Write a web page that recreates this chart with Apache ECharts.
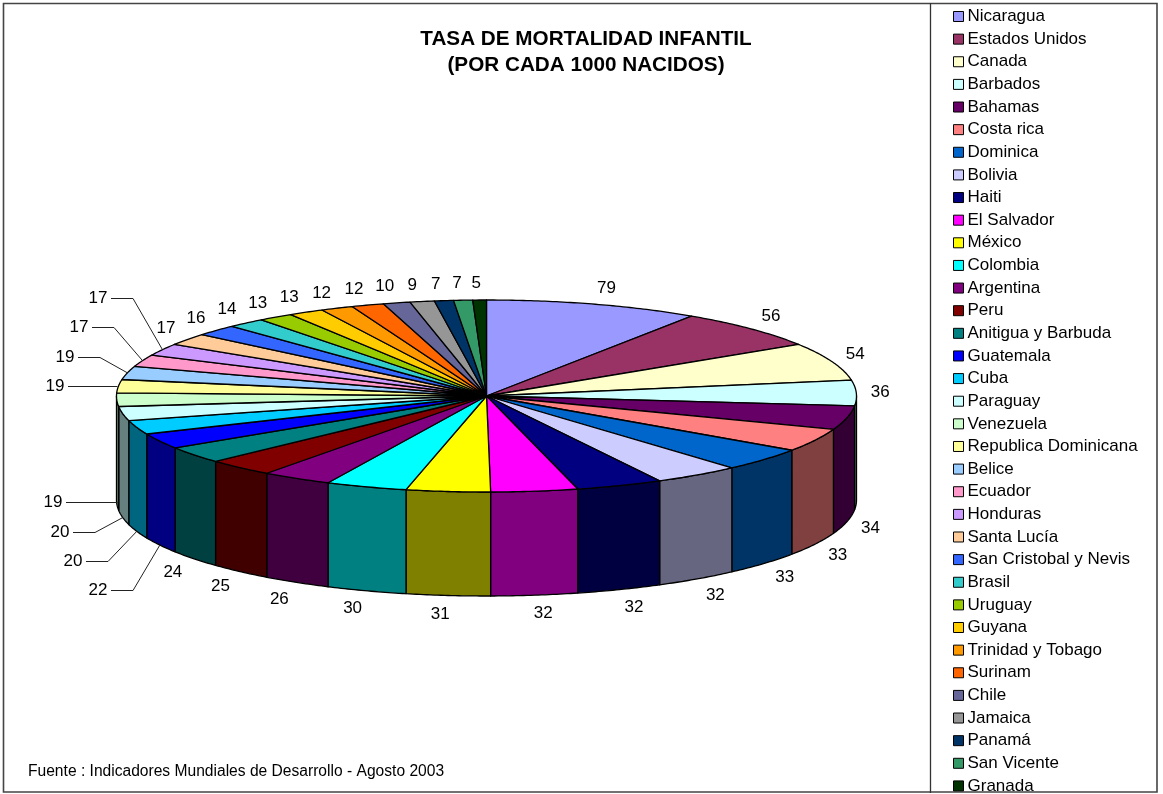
<!DOCTYPE html>
<html>
<head>
<meta charset="utf-8">
<script src="https://cdn.jsdelivr.net/npm/echarts@6/dist/echarts.min.js"></script>
<style>html,body{margin:0;padding:0;background:#fff}#c{width:1163px;height:794px}</style>
</head>
<body>
<div id="c"></div>
<script>
const countries = ["Nicaragua","Estados Unidos","Canada","Barbados","Bahamas","Costa rica","Dominica","Bolivia","Haiti","El Salvador","México","Colombia","Argentina","Peru","Anitigua y Barbuda","Guatemala","Cuba","Paraguay","Venezuela","Republica Dominicana","Belice","Ecuador","Honduras","Santa Lucía","San Cristobal y Nevis","Brasil","Uruguay","Guyana","Trinidad y Tobago","Surinam","Chile","Jamaica","Panamá","San Vicente","Granada"];
const rates = [79,56,54,36,34,33,33,32,32,32,31,30,26,25,24,22,20,20,19,19,19,17,17,17,16,14,13,13,12,12,10,9,7,7,5];
const colors = ["#9999FF","#993366","#FFFFCC","#CCFFFF","#660066","#FF8080","#0066CC","#CCCCFF","#000080","#FF00FF","#FFFF00","#00FFFF","#800080","#800000","#008080","#0000FF","#00CCFF","#CCFFFF","#CCFFCC","#FFFF99","#99CCFF","#FF99CC","#CC99FF","#FFCC99","#3366FF","#33CCCC","#99CC00","#FFCC00","#FF9900","#FF6600","#666699","#969696","#003366","#339966","#003300"];

// layout of the tilted disc
const CX = 486.5, CY = 396, RX = 370, RY = 96, DEPTH = 104;
const LABEL_DX = 24, LABEL_DY = 17.5, LABEL_SHIFT_Y = 1;
// labels moved aside with a leader line: label centre
const leaderLabels = {
  "Guatemala": [98,590], "Cuba": [73,561], "Paraguay": [60,532], "Venezuela": [53,502,true],
  "Republica Dominicana": [55,386,true], "Belice": [65,357], "Ecuador": [79,327], "Honduras": [98,298]
};

const total = rates.reduce((a, b) => a + b, 0);
const starts = [];
rates.reduce((a, b, i) => (starts[i] = a, a + b), 0);

const toAngle = v => v / total * 2 * Math.PI;
const px = (a, dy) => [CX + RX * Math.sin(a), CY - RY * Math.cos(a) + (dy || 0)];
function arc(a0, a1, dy) {
  const n = Math.max(2, Math.ceil((a1 - a0) / 0.01));
  const pts = [];
  for (let i = 0; i <= n; i++) pts.push(px(a0 + (a1 - a0) * i / n, dy));
  return pts;
}
function halfColor(hex) {
  const n = parseInt(hex.slice(1), 16);
  const f = c => Math.round(c / 2);
  return `rgb(${f(n >> 16 & 255)},${f(n >> 8 & 255)},${f(n & 255)})`;
}
const signedPow = (v, p) => Math.sign(v) * Math.pow(Math.abs(v), p);

function renderSlice(i) {
  return function (params, api) {
    const value = api.value(0), start = api.value(1);
    const a0 = toAngle(start), a1 = toAngle(start + value), mid = (a0 + a1) / 2;
    const stroke = { stroke: '#000', lineWidth: 1.3, lineJoin: 'round' };
    const children = [];
    // top face
    children.push({
      type: 'polygon', z2: 2,
      shape: { points: [[CX, CY]].concat(arc(a0, a1)) },
      style: Object.assign({ fill: colors[i] }, stroke)
    });
    // front wall: only the part of the rim facing the viewer
    const f0 = Math.max(a0, Math.PI / 2), f1 = Math.min(a1, Math.PI * 1.5);
    if (f1 > f0) {
      children.push({
        type: 'polygon', z2: 1,
        shape: { points: arc(f0, f1).concat(arc(f0, f1, DEPTH).reverse()) },
        style: Object.assign({ fill: halfColor(colors[i]) }, stroke)
      });
    }
    // value label
    const front = Math.cos(mid) < 0;
    const rim = px(mid, front ? DEPTH : 0);
    const lead = leaderLabels[countries[i]];
    let lx = rim[0] + LABEL_DX * signedPow(Math.sin(mid), 0.5);
    let ly = rim[1] - LABEL_DY * signedPow(Math.cos(mid), 0.75) + LABEL_SHIFT_Y;
    if (lead) {
      lx = lead[0]; ly = lead[1];
      const pts = [[lx + 13, ly + 0.5]];
      if (!lead[2]) pts.push([lx + 35, ly + 0.5]);
      pts.push(lead[2] ? [CX - RX + 1, ly + 0.5] : rim);
      children.push({
        type: 'polyline', z2: 3,
        shape: { points: pts },
        style: { stroke: '#222', lineWidth: 1, fill: null }
      });
    }
    children.push({
      type: 'text', z2: 4,
      style: {
        x: lx, y: ly, text: String(value), fill: '#000',
        font: '17px "Liberation Sans", Arial, sans-serif',
        align: 'center', verticalAlign: 'middle'
      }
    });
    return { type: 'group', children };
  };
}

const series = countries.map((name, i) => ({
  type: 'custom',
  name,
  coordinateSystem: 'none',
  silent: true,
  animation: false,
  itemStyle: { color: colors[i] },
  data: [[rates[i], starts[i]]],
  renderItem: renderSlice(i)
}));

const chart = echarts.init(document.getElementById('c'), null, { renderer: 'canvas' });
chart.setOption({
  animation: false,
  backgroundColor: '#fff',
  title: [
    {
      text: 'TASA DE MORTALIDAD INFANTIL\n(POR CADA 1000 NACIDOS)',
      left: 581, top: 21, textAlign: 'center',
      textStyle: { fontFamily: '"Liberation Sans", Arial, sans-serif', fontWeight: 'bold', fontSize: 20.7, lineHeight: 26, color: '#000' }
    },
    {
      text: 'Fuente : Indicadores Mundiales de Desarrollo - Agosto 2003',
      left: 28, top: 764, padding: 0,
      textStyle: { fontFamily: '"Liberation Sans", Arial, sans-serif', fontWeight: 'normal', fontSize: 15.6, color: '#000' }
    }
  ],
  legend: {
    data: countries,
    orient: 'vertical',
    left: 953, top: 8, height: 830, padding: 0,
    icon: 'rect',
    itemWidth: 10, itemHeight: 10, itemGap: 5.63,
    selectedMode: false,
    itemStyle: { borderColor: '#000', borderWidth: 1 },
    textStyle: { fontFamily: '"Liberation Sans", Arial, sans-serif', fontSize: 17, color: '#000', padding: [0, 0, 0, -1] }
  },
  graphic: [
    { type: 'rect', silent: true, z: -1, shape: { x: 3.5, y: 3.5, width: 1153.5, height: 788.5 }, style: { fill: null, stroke: '#444', lineWidth: 1.6 } },
    { type: 'line', silent: true, z: -1, shape: { x1: 930.5, y1: 3, x2: 930.5, y2: 793 }, style: { stroke: '#333', lineWidth: 1.3 } }
  ],
  series
});
</script>
</body>
</html>
